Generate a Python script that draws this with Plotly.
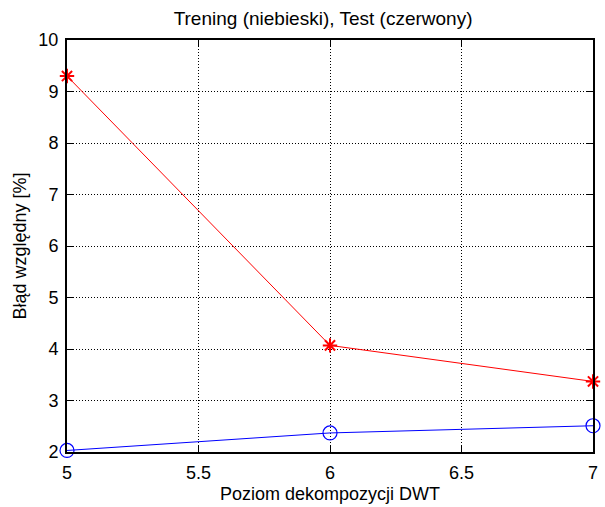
import plotly.graph_objects as go

levels = [5, 6, 7]
train_err = [2.03, 2.37, 2.51]
test_err = [9.30, 4.07, 3.37]

x_ticks = [5, 5.5, 6, 6.5, 7]
y_ticks = [2, 3, 4, 5, 6, 7, 8, 9, 10]

FONT = "Liberation Sans, Arial, sans-serif"
FS = 18

fig = go.Figure()
fig.add_trace(go.Scatter(
    x=levels, y=test_err, mode="lines+markers",
    line=dict(color="red", width=1),
    marker=dict(symbol="asterisk-open", size=12, color="red", line=dict(color="red", width=2)),
    cliponaxis=False, showlegend=False))
fig.add_trace(go.Scatter(
    x=levels, y=train_err, mode="lines+markers",
    line=dict(color="blue", width=1),
    marker=dict(symbol="circle-open", size=14, color="blue", line=dict(color="blue", width=1.2)),
    cliponaxis=False, showlegend=False))

axis_common = dict(
    showline=True, linecolor="black", linewidth=2, mirror="allticks",
    ticks="inside", ticklen=6, tickcolor="black", tickwidth=1,
    showgrid=True, gridcolor="black", griddash="1px,2px", gridwidth=1,
    zeroline=False, automargin=False, ticklabelstandoff=3,
    tickfont=dict(size=FS, color="black", family=FONT),
)
fig.update_xaxes(range=[5, 7], tickvals=x_ticks, ticktext=[str(v) for v in x_ticks],
                 title=dict(text="Poziom dekompozycji DWT", font=dict(size=FS, color="black", family=FONT), standoff=6),
                 **axis_common)
fig.update_yaxes(range=[2, 10], tickvals=y_ticks, ticktext=[str(v) for v in y_ticks],
                 title=dict(text="Błąd względny [%]", font=dict(size=FS, color="black", family=FONT), standoff=7),
                 **axis_common)
fig.update_layout(
    width=605, height=507,
    margin=dict(l=67, r=12, t=40, b=55, autoexpand=False),
    plot_bgcolor="white", paper_bgcolor="white",
    font=dict(family=FONT, color="black", size=FS),
    title=dict(text="Trening (niebieski), Test (czerwony)", x=0.534, xanchor="center",
               y=1 - 18 / 507, yanchor="middle",
               font=dict(size=19, color="black", family=FONT)),
)
fig.write_html("out.html", config={"displayModeBar": False},
               post_script="document.body.style.margin='0';")
